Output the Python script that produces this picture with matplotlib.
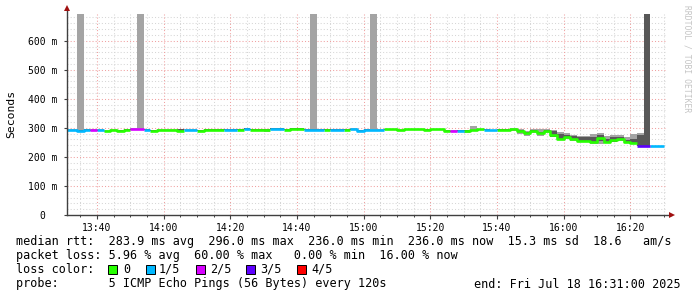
import numpy as np
import matplotlib
matplotlib.use("Agg")
import matplotlib.pyplot as plt
from matplotlib.patches import Rectangle

# ---------------- data ----------------
first_bin_min = 30          # minutes after 13:00 of first 2-minute bin
bin_minutes = 2
x_start_min, x_end_min = 31, 211   # 13:31 .. 16:31

median_ms = [293, 293, 290, 293, 291, 291, 289, 293, 290, 294,
             295, 295, 294, 290, 293, 293, 293, 290, 293, 293,
             290, 294, 294, 294, 294, 294, 294, 297, 294, 294,
             294, 297, 297, 294, 297, 297, 294, 294, 294, 294,
             294, 294, 294, 295, 290, 294, 292, 292, 295, 295,
             292, 295, 295, 295, 294, 295, 295, 290, 288, 290,
             290, 291, 295, 294, 291, 294, 294, 295, 289, 284,
             289, 283, 289, 275, 262, 270, 262, 256, 256, 251,
             265, 252, 258, 262, 250, 248, 239, 239, 237, 236]

loss_count = [1, 1, 1, 1, 2, 1, 0, 0, 0, 0,
              2, 2, 1, 0, 0, 0, 0, 0, 1, 1,
              0, 0, 0, 0, 1, 1, 0, 1, 0, 0,
              0, 1, 1, 0, 0, 0, 1, 1, 1, 0,
              1, 1, 0, 1, 1, 1, 1, 1, 0, 0,
              0, 0, 0, 0, 0, 0, 0, 0, 2, 1,
              0, 0, 0, 1, 1, 0, 0, 0, 0, 0,
              0, 0, 0, 0, 0, 0, 0, 0, 0, 0,
              0, 0, 0, 0, 0, 0, 3, 3, 1, 1]

smoke_outer_lo = [290, 290, 288, 290, 288, 289, 287, 291, 288, 292,
                  292, 292, 291, 288, 291, 291, 291, 288, 291, 291,
                  288, 292, 292, 292, 291, 290, 292, 292, 292, 292,
                  286, 294, 292, 292, 295, 295, 291, 291, 291, 292,
                  291, 291, 292, 292, 288, 292, 290, 289, 293, 293,
                  290, 293, 293, 293, 290, 293, 293, 287, 285, 286,
                  284, 288, 292, 291, 289, 292, 292, 288, 280, 273,
                  283, 271, 284, 270, 260, 263, 256, 250, 252, 246,
                  246, 249, 250, 254, 248, 245, 238, 238, 236, 235]

smoke_outer_hi = [296, 296, 800, 297, 296, 296, 292, 296, 293, 297,
                  298, 800, 297, 294, 296, 296, 297, 296, 296, 297,
                  293, 297, 297, 297, 296, 297, 297, 300, 297, 297,
                  297, 300, 300, 297, 300, 300, 297, 800, 297, 297,
                  297, 297, 297, 298, 293, 297, 800, 295, 297, 297,
                  296, 297, 297, 297, 297, 297, 297, 293, 292, 293,
                  292, 306, 297, 297, 294, 297, 297, 298, 297, 290,
                  297, 296, 297, 292, 285, 282, 276, 272, 272, 280,
                  283, 272, 276, 275, 270, 278, 282, 800, 239, 238]

smoke_inner_lo = [292, 292, 289, 292, 290, 290, 288, 292, 289, 293,
                  294, 294, 293, 289, 292, 292, 292, 289, 292, 292,
                  289, 293, 293, 293, 293, 293, 293, 296, 293, 293,
                  293, 296, 296, 293, 296, 296, 293, 293, 293, 293,
                  293, 293, 293, 294, 289, 293, 291, 291, 294, 294,
                  291, 294, 294, 294, 293, 294, 294, 289, 287, 289,
                  289, 290, 294, 293, 290, 293, 293, 294, 286, 280,
                  287, 278, 287, 270, 262, 264, 258, 253, 253, 248,
                  255, 250, 252, 257, 249, 246, 238, 238, 236, 235]

smoke_inner_hi = [294, 294, 291, 296, 292, 292, 290, 294, 291, 295,
                  296, 296, 295, 291, 294, 294, 294, 296, 294, 294,
                  291, 295, 295, 295, 295, 295, 295, 298, 295, 295,
                  295, 298, 298, 295, 298, 298, 295, 295, 295, 295,
                  295, 295, 295, 296, 291, 295, 293, 293, 296, 296,
                  293, 296, 296, 296, 295, 296, 296, 291, 289, 291,
                  291, 292, 296, 295, 292, 295, 295, 296, 291, 286,
                  291, 287, 291, 290, 279, 276, 272, 268, 268, 268,
                  275, 262, 270, 270, 258, 262, 275, 800, 238, 237]

x_tick_minutes = [40, 60, 80, 100, 120, 140, 160, 180, 200]
x_tick_labels = ["13:40", "14:00", "14:20", "14:40", "15:00",
                 "15:20", "15:40", "16:00", "16:20"]
y_tick_values = [0, 100, 200, 300, 400, 500, 600]
y_tick_labels = ["0  ", "100 m", "200 m", "300 m", "400 m", "500 m", "600 m"]

loss_colors = ["#26ff00", "#00b8ff", "#d600ff", "#5e00ff", "#ff0000"]
loss_labels = ["0", "1/5", "2/5", "3/5", "4/5"]

legend_rtt = ("median rtt:  283.9 ms avg  296.0 ms max  236.0 ms min  "
              "236.0 ms now  15.3 ms sd  18.6   am/s")
legend_loss = "packet loss: 5.96 % avg  60.00 % max   0.00 % min  16.00 % now"
legend_probe = "probe:       5 ICMP Echo Pings (56 Bytes) every 120s"
legend_end = "end: Fri Jul 18 16:31:00 2025"

# ---------------- figure ----------------
W, H = 697, 297
fig = plt.figure(figsize=(W / 100, H / 100), dpi=100)
fig.patch.set_facecolor("white")
MONO = "DejaVu Sans Mono"

def fx(px):
    return px / W

def fy(py):
    return 1 - py / H

ax = fig.add_axes([fx(67), fy(215), 600 / W, 201 / H])
ax.set_facecolor("white")
y_top = 692
ax.set_xlim(x_start_min, x_end_min)
ax.set_ylim(0, y_top)

# grid
grid_minor = "#d6d6d6"
grid_major = "#f0a0a0"
dot = (0, (1, 2))
for v in range(20, 690, 20):
    if v % 100:
        ax.axhline(v, color=grid_minor, lw=0.75, ls=dot, zorder=0)
for v in range(100, 690, 100):
    ax.axhline(v, color=grid_major, lw=0.75, ls=dot, zorder=0.5)
for m in range(35, 211, 5):
    if m % 20:
        ax.axvline(m, color=grid_minor, lw=0.75, ls=dot, zorder=0)
for m in x_tick_minutes:
    ax.axvline(m, color=grid_major, lw=0.75, ls=dot, zorder=0.5)

# smoke
n = len(median_ms)
edges = first_bin_min + bin_minutes * np.arange(n + 1)

def ext(a):
    a = np.asarray(a, dtype=float)
    return np.append(a, a[-1])

ax.fill_between(edges, ext(smoke_outer_lo), ext(smoke_outer_hi), step="post",
                color="#a4a4a4", lw=0, zorder=2)
ax.fill_between(edges, ext(smoke_inner_lo), ext(smoke_inner_hi), step="post",
                color="#585858", lw=0, zorder=3)

# median line coloured by loss
med = np.asarray(median_ms, dtype=float)
lc = np.asarray(loss_count)
for lvl, col in enumerate(loss_colors):
    vals = np.where(lc == lvl, med, np.nan)
    if np.all(np.isnan(vals)):
        continue
    ax.step(edges, ext(vals), where="post", color=col, lw=1.9, zorder=4,
            solid_capstyle="butt")

# axes
for s in ["top", "right", "left", "bottom"]:
    ax.spines[s].set_visible(False)
axis_col = "#404040"
ax.plot([0, 0], [0, 1.025], transform=ax.transAxes, color=axis_col, lw=1.0,
        clip_on=False, zorder=5)
ax.plot([0, 1.006], [0, 0], transform=ax.transAxes, color=axis_col, lw=1.0,
        clip_on=False, zorder=5)
ax.plot([0], [1.03], transform=ax.transAxes, marker="^", ms=4.5,
        color="#a01010", clip_on=False, zorder=6, mew=0)
ax.plot([1.009], [0], transform=ax.transAxes, marker=">", ms=4.5,
        color="#a01010", clip_on=False, zorder=6, mew=0)

ax.set_xticks(x_tick_minutes)
ax.set_xticklabels(x_tick_labels, family=MONO, fontsize=7)
ax.set_xticks(list(range(35, 211, 5)), minor=True)
ax.set_yticks(y_tick_values)
ax.set_yticklabels(y_tick_labels, family=MONO, fontsize=7)
ax.tick_params(axis="x", which="major", length=3, width=0.8, color=axis_col,
               pad=2.5, direction="out")
ax.tick_params(axis="x", which="minor", length=1.5, width=0.7, color=axis_col,
               direction="out")
ax.tick_params(axis="y", which="major", length=2, width=0.8, color=axis_col,
               pad=5, direction="out")

fig.text(fx(11), fy(114), "Seconds", rotation=90, family=MONO, fontsize=8.2,
         ha="center", va="center")

# watermark
fig.text(fx(687), fy(5), "RRDTOOL / TOBI OETIKER", rotation=-90, family=MONO,
         fontsize=5.8, color="#c4c4c4", ha="center", va="top")

# legend
fs = 8.45
fig.text(fx(16), fy(245), legend_rtt, family=MONO, fontsize=fs, va="baseline")
fig.text(fx(16), fy(259.5), legend_loss, family=MONO, fontsize=fs, va="baseline")
fig.text(fx(16), fy(273), "loss color:", family=MONO, fontsize=fs, va="baseline")
sq_x = [108, 146, 196, 246, 297]
lab_x = [123, 159, 210, 260, 311]
for col, lab, sx, tx in zip(loss_colors, loss_labels, sq_x, lab_x):
    fig.patches.append(Rectangle((fx(sx), fy(273.5)), 9 / W, 9 / H,
                                 transform=fig.transFigure, facecolor=col,
                                 edgecolor="black", lw=0.7))
    fig.text(fx(tx), fy(273), lab, family=MONO, fontsize=fs, va="baseline")
fig.text(fx(16), fy(287.5), legend_probe, family=MONO, fontsize=fs, va="baseline")
fig.text(fx(681), fy(287.5), legend_end, family=MONO, fontsize=fs,
         va="baseline", ha="right")

fig.savefig("out.png", dpi=100, facecolor="white")
